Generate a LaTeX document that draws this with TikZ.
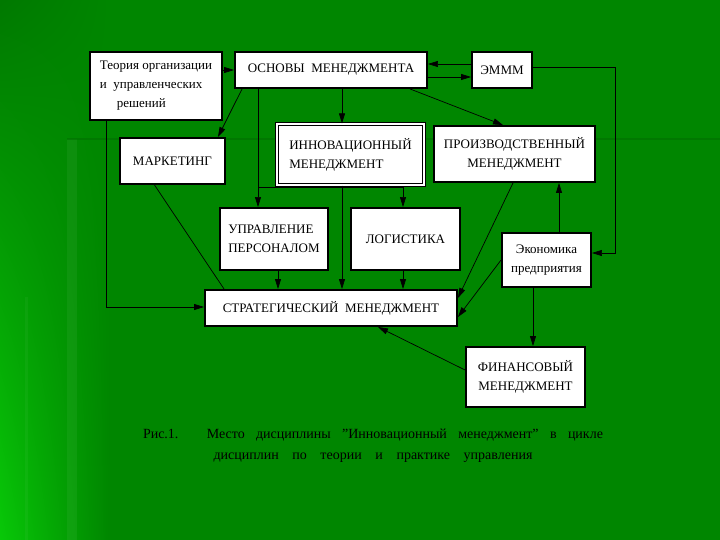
\documentclass[tikz,border=0pt]{standalone}
\usepackage{fontspec}
\setmainfont{Liberation Serif}
\usepackage{tikz}
\usetikzlibrary{arrows.meta,shadings}

\definecolor{bggreen}{RGB}{0,134,0}
\definecolor{litegreen}{RGB}{8,200,8}
\definecolor{darkgreen}{RGB}{0,112,0}

\begin{document}
\begin{tikzpicture}[x=1pt, y=-1pt,
    blk/.style={draw=black, line width=1.9pt, fill=white, inner sep=0pt, align=center, font=\fontsize{13}{19}\selectfont},
    dblk/.style={draw=black, line width=1.2pt, double=white, double distance=1.6pt, fill=white, inner sep=0pt, align=left, font=\fontsize{13}{19}\selectfont},
    arr/.style={-{Triangle[length=10pt,width=6pt]}, line width=0.7pt},
    ln/.style={line width=0.7pt},
    captext/.style={font=\fontsize{14}{21}\selectfont, align=center, inner sep=0pt}
]
\useasboundingbox (0,0) rectangle (720,540);
% background
\fill[bggreen] (0,0) rectangle (720,540);
\shade[upper left=bggreen!90!black, lower left=litegreen, upper right=bggreen, lower right=bggreen] (0,0) rectangle (110,540);
\fill[white, opacity=0.05] (67,139) rectangle (77,540);
\fill[white, opacity=0.04] (25,297) rectangle (28,540);
\draw[darkgreen, opacity=0.6, line width=2pt] (67,139) -- (720,139);

% boxes
\node[blk, minimum width=132pt, minimum height=68pt, align=left] (T) at (156,86) {Теория организации\\ и\ \ управленческих\\ \hspace*{1.3em}решений};
\node[blk, minimum width=192pt, minimum height=36pt] (O) at (331,70) {ОСНОВЫ\ \ МЕНЕДЖМЕНТА};
\node[blk, minimum width=60pt, minimum height=36pt] (E) at (502,70) {ЭМММ};
\node[blk, minimum width=105pt, minimum height=46pt] (M) at (172.5,161) {МАРКЕТИНГ};
\node[dblk, minimum width=147pt, minimum height=61pt] (I) at (350.5,154.5) {ИННОВАЦИОННЫЙ\\ МЕНЕДЖМЕНТ};
\node[blk, minimum width=161pt, minimum height=56pt] (P) at (514.5,154) {ПРОИЗВОДСТВЕННЫЙ\\ МЕНЕДЖМЕНТ};
\node[blk, minimum width=108pt, minimum height=62pt, align=left] (U) at (274,239) {УПРАВЛЕНИЕ\\ ПЕРСОНАЛОМ};
\node[blk, minimum width=109pt, minimum height=62pt] (L) at (405.5,239) {ЛОГИСТИКА};
\node[blk, minimum width=89pt, minimum height=54pt] (Ek) at (546.5,260) {Экономика\\ предприятия};
\node[blk, minimum width=252pt, minimum height=36pt] (S) at (331,308) {СТРАТЕГИЧЕСКИЙ\ \ МЕНЕДЖМЕНТ};
\node[blk, minimum width=119pt, minimum height=60pt] (F) at (525.5,377) {ФИНАНСОВЫЙ\\ МЕНЕДЖМЕНТ};
\node[captext] (C) at (373,446) {\makebox[460pt][s]{Рис.1. Место дисциплины "Инновационный менеджмент" в цикле}\\
    \makebox[319pt][s]{дисциплин по теории и практике управления}};

% links
\coordinate (ou) at ([xshift=-73pt]O.south);
\draw[arr] (T.east |- O.west) -- (O.west);
\draw[arr] ([yshift=6pt]E.west) -- ([yshift=6pt]O.east);
\draw[arr] ([yshift=-7pt]O.east) -- ([yshift=-7pt]E.west);
\draw[arr] ([xshift=8pt]O.south west) -- ([xshift=-8pt]M.north east);
\draw[arr] ([xshift=11pt]O.south) -- ([xshift=11pt]O.south |- I.north);
\draw[arr] ([xshift=79pt]O.south) -- ([xshift=-11.5pt]P.north);
\draw[arr] (ou) -- (ou |- U.north);
\draw[arr] (ou |- I.south) ++(0,2) -| ([xshift=-2.5pt]L.north);
\draw[arr] ([xshift=-8.5pt]I.south) -- ([xshift=-8.5pt]I.south |- S.north);
\draw[arr] ([xshift=-50pt]T.south) |- ([yshift=1pt]S.west);
\draw[ln] ([xshift=-18pt]M.south) -- ([xshift=20pt]S.north west);
\draw[arr] ([xshift=4pt]U.south) -- ([xshift=4pt]U.south |- S.north);
\draw[arr] ([xshift=-2.5pt]L.south) -- ([xshift=-2.5pt]L.south |- S.north);
\draw[arr] ([xshift=-1.5pt]P.south) -- ([yshift=10pt]S.east);
\draw[arr] (Ek.west) -- ([yshift=-9pt]S.east);
\draw[arr] ([xshift=12.5pt]Ek.north) -- ([xshift=12.5pt]Ek.north |- P.south);
\draw[arr] ([yshift=3pt]E.east) -- ++(82,0) |- ([yshift=7pt]Ek.east);
\draw[arr] ([xshift=-13.5pt]Ek.south) -- ([xshift=-13.5pt]Ek.south |- F.north);
\draw[arr] ([yshift=7pt]F.west) -- ([xshift=47pt]S.south);
\end{tikzpicture}
\end{document}
